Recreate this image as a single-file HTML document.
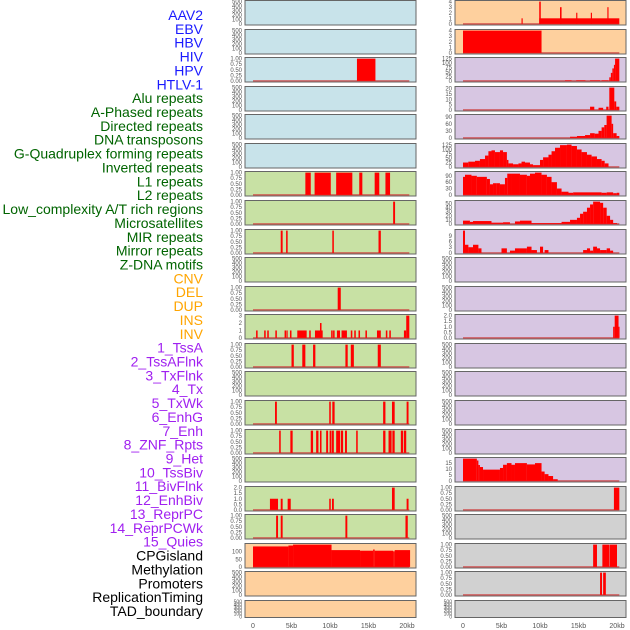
<!DOCTYPE html>
<html><head><meta charset="utf-8">
<style>
html,body{margin:0;padding:0;background:#fff;}
svg{display:block;font-family:"Liberation Sans",sans-serif;}
</style></head>
<body>
<svg id="chart" width="630" height="630" viewBox="0 0 630 630"></svg>
<script>
// ---- labels ----
const labelNames=["AAV2","EBV","HBV","HIV","HPV","HTLV-1","Alu repeats","A-Phased repeats","Directed repeats","DNA transposons","G-Quadruplex forming repeats","Inverted repeats","L1 repeats","L2 repeats","Low_complexity A/T rich regions","Microsatellites","MIR repeats","Mirror repeats","Z-DNA motifs","CNV","DEL","DUP","INS","INV","1_TssA","2_TssAFlnk","3_TxFlnk","4_Tx","5_TxWk","6_EnhG","7_Enh","8_ZNF_Rpts","9_Het","10_TssBiv","11_BivFlnk","12_EnhBiv","13_ReprPC","14_ReprPCWk","15_Quies","CPGisland","Methylation","Promoters","ReplicationTiming","TAD_boundary"];
const labelGroups=["v","v","v","v","v","v","r","r","r","r","r","r","r","r","r","r","r","r","r","s","s","s","s","s","c","c","c","c","c","c","c","c","c","c","c","c","c","c","c","o","o","o","o","o"];
const groupColors={v:"#1a1aff",r:"#006400",s:"#ffa500",c:"#a020f0",o:"#000000"};
const trackFill={v:"#c8e3ea",r:"#c8e1a4",s:"#fed09e",c:"#d7c6e2",o:"#d1d1d1"};

// ---- data: segments [startKb, endKb, value] ----
const hbv=[[13.5,15.9,1]];
const alu=[[6.8,7.5,1],[8.0,10.1,1],[10.8,12.9,1],[13.8,14.2,1],[15.8,16.4,1],[17.2,17.8,1]];
const aphased=[[18.2,18.45,1]];
const directed=[[3.6,3.85,1],[4.3,4.5,1],[10.3,10.5,1],[16.3,16.6,1]];
const gquad=[[11.0,11.4,1]];
const inverted=[[0.4,0.6,1],[1.45,1.65,1],[1.85,2.05,1],[2.9,3.1,1],[4.1,4.3,1],[4.35,4.5,1],[4.8,5.0,1],[5.75,6.97,1],[7.3,7.5,1],[8.05,9.05,1],[8.7,8.9,2],[10.15,10.35,1],[10.4,10.6,1],[10.9,11.3,1],[11.5,12.2,1],[12.7,12.9,1],[13.15,13.35,1],[13.7,13.9,1],[14.6,14.8,1],[16.1,16.6,1],[17.25,17.45,1],[17.7,17.9,1],[19.6,19.9,1],[19.9,20.3,3]];
const l1=[[5.0,5.3,1],[6.4,6.8,1],[7.8,8.1,1],[12.0,12.3,1],[12.7,13.1,1],[16.2,16.6,1]];
const lowcomp=[[2.86,3.1,1],[9.9,10.1,1],[10.3,10.6,1],[16.9,17.2,1],[18.05,18.4,1],[19.95,20.2,1]];
const microsat=[[3.4,3.6,1],[4.85,5.15,1],[7.5,7.8,1],[8.2,8.5,1],[8.7,8.9,1],[9.5,9.75,1],[9.95,10.2,1],[10.26,10.5,1],[10.8,11.3,1],[11.4,11.7,1],[11.95,12.2,1],[13.4,13.6,1],[16.9,17.2,1],[17.6,18.0,1],[18.1,18.4,1],[19.2,19.5,1],[19.6,19.9,1]];
const mirror=[[2.2,3.25,1],[3.6,3.85,1],[4.5,4.9,1],[9.9,10.1,1],[10.26,10.5,1],[18.05,18.4,2],[19.95,20.2,1]];
const zdna=[[3.0,3.25,1],[3.6,3.85,1],[12.0,12.25,1],[19.8,20.1,1]];
const cnv=[[0,4.6,134],[4.6,5.2,140],[5.2,10.2,146],[10.2,13.9,110],[13.9,15.6,106],[15.6,15.8,114],[15.8,18.2,106],[18.2,18.4,102],[18.4,20.4,110]];
const ins=[[7.6,7.75,1],[9.9,20.3,1],[9.9,10.1,4],[12.6,12.8,3],[14.7,14.85,2],[16.6,16.75,2],[18.75,18.9,3]];
const inv=[[0,10.2,4]];
const tssA=[[13.25,14.1,3],[14.7,15.9,3],[16.5,17.8,3],[18.0,18.9,3],[19.0,19.2,20],[19.2,19.4,45],[19.4,19.6,70],[19.6,19.75,90],[19.75,20.3,125]];
const tssAFlnk=[[16.5,17.05,3],[17.6,18.2,2],[18.6,18.9,3],[19.0,19.65,21],[19.65,19.9,8],[19.9,20.3,3]];
const txFlnk=[[13.9,14.8,5],[14.8,15.85,8],[15.85,16.5,12],[16.5,17.1,20],[17.1,17.6,18],[17.6,18.0,30],[18.0,18.35,45],[18.35,18.65,55],[18.65,19.3,95],[19.3,19.5,60],[19.5,19.95,20],[19.95,20.3,8]];
const txEdges=[0,0.69,1.56,2.2,2.86,3.3,3.7,4.15,4.8,5.2,5.7,5.9,6.5,7.2,7.6,8.05,8.7,9.1,10.0,10.4,11.1,11.5,11.95,12.6,13.5,14.1,14.8,15.4,16.1,16.7,17.4,18.0,18.4,18.9];
const txVals=[25,30,35,45,65,90,95,85,95,85,40,20,15,20,30,25,15,10,40,55,70,90,110,125,128,120,100,85,70,60,45,35,20];
const txWkEdges=[0,0.26,1.1,1.8,3.1,3.5,3.9,4.4,4.8,5.45,5.75,6.3,7.4,8.3,8.7,9.35,10.2,10.9,11.5,12.2,12.8,13.7,14.3,18.0,18.66,19.5,19.96,20.3];
const txWkVals=[85,95,90,85,75,50,55,55,50,80,100,100,95,90,100,105,95,85,60,30,15,10,12,10,12,8,10];
const enhGEdges=[0,0.9,1.3,3.7,5.2,6.1,6.75,7.4,8.9,12.8,13.9,14.8,15.2,15.6,16.1,16.5,16.9,17.8,18.2,18.66,19.1,19.5,20.0];
const enhGVals=[8,5,7,3,4,0,6,8,2,5,10,15,25,30,40,48,55,52,40,20,10,2];
const enh=[[0,0.26,11.8],[0.26,0.7,4.3],[0.7,1.3,3],[1.3,2.0,4.3],[2.0,2.4,2.4],[5.0,5.7,2.4],[6.1,6.75,1.2],[6.75,7.4,2.4],[7.4,8.3,2.4],[8.3,8.9,3.3],[8.9,9.6,1.5],[10.0,10.4,3.3],[10.6,11.1,1.5],[15.6,16.1,1.5],[16.1,16.5,2.4],[16.5,16.9,1.2],[16.9,17.4,3.3],[17.4,17.8,2.4],[17.8,18.66,1.5],[18.66,19.1,2.4],[19.1,19.5,1.2]];
const tssBiv=[[19.5,19.7,1],[19.7,20.2,2],[20.2,20.3,1]];
const quiesEdges=[0,1.8,2.0,2.2,2.6,4.8,5.2,5.7,6.3,6.75,8.3,9.35,10.2,10.6,11.1,11.7,12.3];
const quiesVals=[18.8,17.2,13.4,11.7,9.5,10.9,13.6,15,13.6,15,13.9,15,7.9,5.7,4.1,1.4];
const cpg=[[19.6,20.3,1]];
const promoters=[[16.9,17.4,1],[18.1,19.0,1],[19.05,20.0,1]];
const replTiming=[[17.8,18.05,1],[18.2,18.55,1]];
const xTickKb=[0,5,10,15,20];
const xTickLabels=["0","5kb","10kb","15kb","20kb"];

function stepSegs(e,v){const s=[];for(let i=0;i<v.length;i++)s.push([e[i],e[i+1],v[i]]);return s;}
// per-track: segments, ticks
const trackData=[null,null,hbv,null,null,null,alu,aphased,directed,null,gquad,inverted,l1,null,lowcomp,microsat,null,mirror,zdna,cnv,null,null,
 ins,inv,tssA,tssAFlnk,txFlnk,stepSegs(txEdges,txVals),stepSegs(txWkEdges,txWkVals),stepSegs(enhGEdges,enhGVals),enh,null,null,tssBiv,null,null,null,null,stepSegs(quiesEdges,quiesVals),cpg,null,promoters,replTiming,null];
const t01=[0,0.25,0.5,0.75,1];
const trackTicks=[null,null,t01,null,null,null,t01,t01,t01,null,t01,[0,1,2,3],t01,null,t01,t01,null,[0,0.5,1,1.5,2],t01,[0,50,100],null,null,
 [0,1,2,3,4],[0,1,2,3,4],[0,25,50,75,100,125],[0,5,10,15,20],[0,30,60,90],[0,25,50,75,100,125],[0,30,60,90],[0,10,20,30,40,50],[0,3,6,9],null,null,[0,0.5,1,1.5,2],null,null,null,null,[0,5,10,15],t01,null,t01,t01,null];
const emptyTicks=[0,100,200,300,400,500];

const svg=document.getElementById('chart');
const NS="http://www.w3.org/2000/svg";
function mk(tag,attrs,parent){const el=document.createElementNS(NS,tag);for(const k in attrs)el.setAttribute(k,attrs[k]);(parent||svg).appendChild(el);return el;}

// left labels
labelNames.forEach((n,i)=>{
  const t=mk('text',{x:203,y:15+i*13.86+5,'text-anchor':'end','font-size':14,fill:groupColors[labelGroups[i]]});
  
  
  t.textContent=n;
});

function fmt(v,ticks){const step=ticks[1]-ticks[0];if(step<0.5)return v.toFixed(2);if(step<1)return v.toFixed(1);return String(v);}

for(let idx=0;idx<44;idx++){
  const col=idx<22?0:1,row=idx%22;
  const px=col===0?245:455,pw=171;
  const x0=col===0?253:463,kbScale=7.7;
  const xs=kb=>x0+kb*kbScale;
  const top=Math.round(row*28.57)+0.5;
  const h=row===21?17:24.5;
  const g=mk('g',{});
  
  
  mk('rect',{x:px,y:top,width:pw,height:h,fill:trackFill[labelGroups[idx]],stroke:'#666','stroke-width':1},g);
  const segs=trackData[idx];
  let ticks=trackTicks[idx]||emptyTicks;
  let ymax;
  if(segs){ymax=Math.max(...segs.map(s=>s[2]));ymax=Math.max(ymax,ticks[ticks.length-1]);}
  else ymax=500;
  const lo=-0.05*ymax,hi=ymax*1.05;
  const ys=v=>top+h-(v-lo)/(hi-lo)*h;
  ticks.forEach(tv=>{
    const tt=mk('text',{x:px-3,y:ys(tv)+2,'text-anchor':'end','font-size':row===21?5:6,fill:'#555'},g);
    
    
    tt.textContent=fmt(tv,ticks);
  });
  if(segs){
    const bl=mk('line',{x1:xs(0),x2:xs(20.3),y1:ys(0),y2:ys(0),stroke:'rgba(205,60,60,0.75)','stroke-width':1.5},g);
    
    
    segs.forEach(s=>{
      if(s[2]<=0)return;
      const r=mk('rect',{x:xs(s[0]),y:ys(s[2]),width:Math.max(1,xs(s[1])-xs(s[0])),height:ys(0)-ys(s[2]),fill:'#ff0000'},g);
      
      
    });
  }
}
// x axes
[253,463].forEach((x0,c)=>{
  xTickKb.forEach((kb,i)=>{
    const t=mk('text',{x:x0+kb*7.7,y:628,'text-anchor':'middle','font-size':7,fill:'#555'});
    
    
    t.textContent=xTickLabels[i];
  });
});
</script>
</body></html>
